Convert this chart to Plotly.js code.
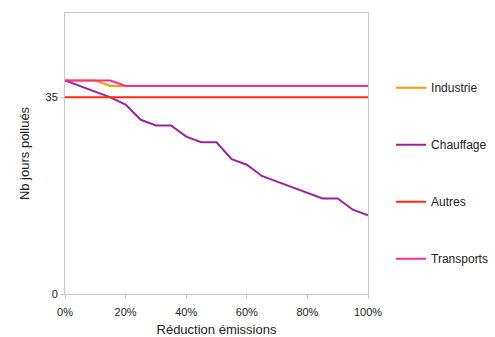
<!DOCTYPE html>
<html><head><meta charset="utf-8">
<script src="https://cdn.plot.ly/plotly-3.0.1.min.js"></script>
<style>html,body{margin:0;padding:0;background:#fff}#c{width:495px;height:337px}</style>
</head><body><div id="c"></div>
<script>
const reduction = [0,0.05,0.10,0.15,0.20,0.25,0.30,0.35,0.40,0.45,0.50,0.55,0.60,0.65,0.70,0.75,0.80,0.85,0.90,0.95,1.00];
const industrie = [38,38,38,37,37,37,37,37,37,37,37,37,37,37,37,37,37,37,37,37,37];
const chauffage = [38,37,36,35,33.7,31,30,30,28,27,27,24,23,21,20,19,18,17,17,15,14];
const autres    = [35,35,35,35,35,35,35,35,35,35,35,35,35,35,35,35,35,35,35,35,35];
const transports= [38,38,38,38,37,37,37,37,37,37,37,37,37,37,37,37,37,37,37,37,37];
const names = ['Industrie','Chauffage','Autres','Transports'];
const colors = ['#FF9900','#A0209C','#FF2A10','#FF2C8C'];
const series = [industrie, chauffage, autres, transports];
const traces = series.map((s,i)=>({x:reduction,y:s,name:names[i],type:'scatter',mode:'lines',
  line:{color:colors[i],width:2},legendgroup:'g'+i}));
Plotly.newPlot('c',traces,{
  width:495,height:337,
  margin:{l:65,r:127,t:13,b:43},
  paper_bgcolor:'#fff',plot_bgcolor:'#fff',
  font:{family:'Liberation Sans, Arial, sans-serif',size:11,color:'#222'},
  xaxis:{range:[0,1],tickvals:[0,0.2,0.4,0.6,0.8,1],tickformat:'.0%',showgrid:false,zeroline:false,
    showline:true,linecolor:'#c8c8c8',mirror:true,ticks:'outside',ticklen:4,tickcolor:'#c8c8c8',
    automargin:false,ticklabelstandoff:4,
    title:{text:'Réduction émissions',font:{size:13}}},
  yaxis:{range:[0,50],tickvals:[0,35],showgrid:false,zeroline:false,automargin:false,
    showline:true,linecolor:'#c8c8c8',mirror:true,ticks:'outside',ticklen:4,tickcolor:'#c8c8c8',
    title:{text:'Nb jours pollués',font:{size:13}}},
  legend:{xref:'container',yref:'container',x:0.79,xanchor:'left',y:0.783,yanchor:'top',maxheight:330,
    tracegroupgap:38,itemwidth:30,font:{size:12},bgcolor:'rgba(0,0,0,0)'},
  showlegend:true
},{displayModeBar:false,staticPlot:true});
</script></body></html>
